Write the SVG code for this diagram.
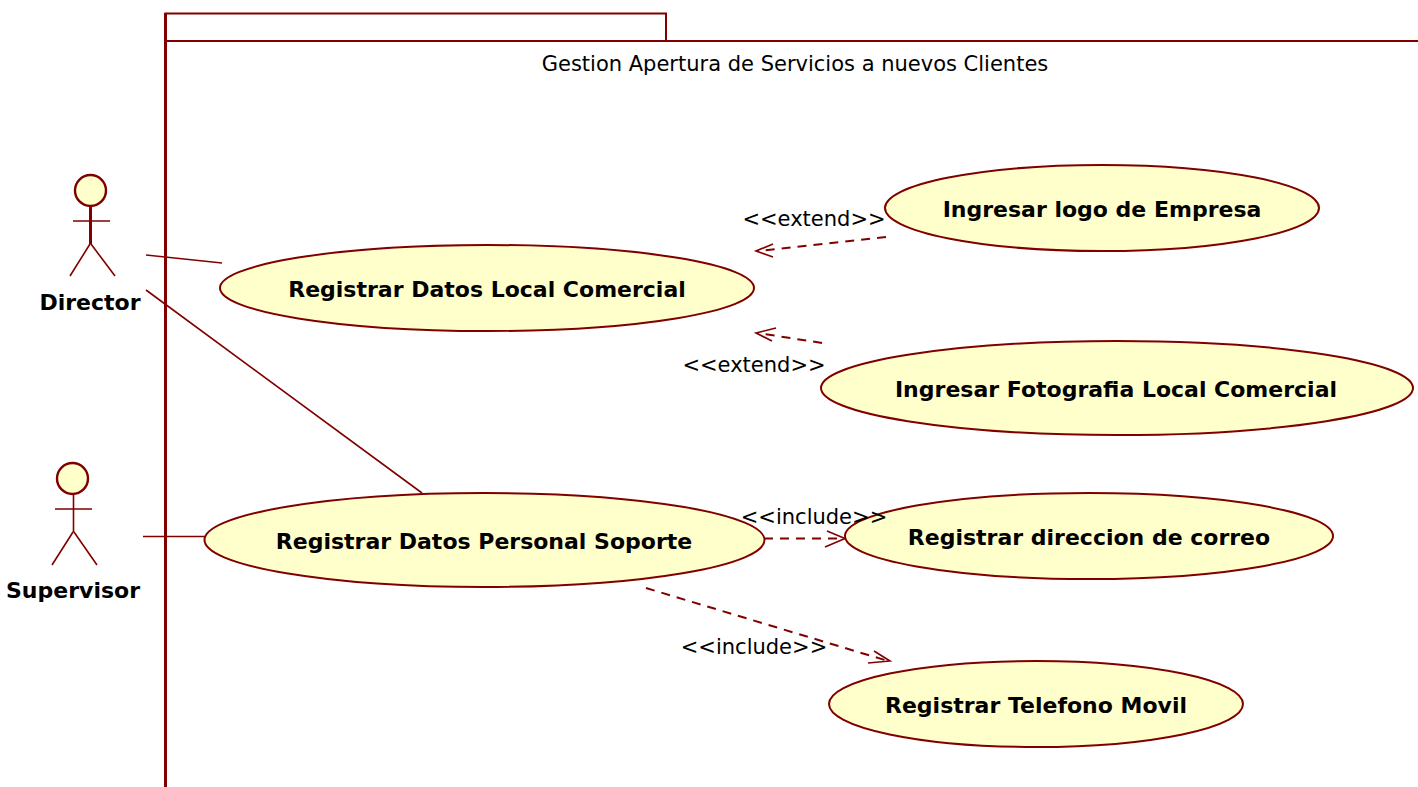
<svg xmlns="http://www.w3.org/2000/svg" width="1418" height="787" viewBox="0 0 1418 787">
<style>
.uc{fill:#ffffcb;stroke:#800000;stroke-width:2}
.b{font-family:"DejaVu Sans",sans-serif;font-weight:bold;font-size:22px;fill:#000;text-anchor:middle}
.n{font-family:"DejaVu Sans",sans-serif;font-size:21px;fill:#000;text-anchor:middle}
.l{fill:none;stroke:#800000;stroke-width:1.6}
.d{fill:none;stroke:#800000;stroke-width:2;stroke-dasharray:9 7}
.h{fill:none;stroke:#800000;stroke-width:1.6}
.a{fill:#ffffcb;stroke:#800000;stroke-width:2.4}
</style>
<rect width="1418" height="787" fill="#fff"/>
<g id="frame" fill="none" stroke="#800000">
<path d="M165.500 787V13.500H666V41" stroke-width="2"/>
<path d="M165.500 13V787" stroke-width="3"/>
<path d="M165 41H1418" stroke-width="2"/>
<text x="795" y="71" class="n" stroke="none">Gestion Apertura de Servicios a nuevos Clientes</text>
</g>
<g id="connectors">
<path class="l" d="M146 255L222 263"/>
<path class="l" d="M146 290L422 493"/>
<path class="l" d="M143 536.500H205"/>
<path class="d" d="M886 237L758 251"/>
<path class="h" d="M773 244L756 251L773 257"/>
<path class="d" d="M822 343L758 333"/>
<path class="h" d="M776 328L756 333L772 341"/>
<path class="d" d="M764 538.500H842"/>
<path class="h" d="M827 531L845 538.500L825 547"/>
<path class="d" d="M646 588L888 661"/>
<path class="h" d="M874 651L890 661L868 663"/>
</g>
<g id="actor-director">
<circle class="a" cx="90.500" cy="190.500" r="15.500"/>
<path d="M90.500 207V244" stroke="#800000" stroke-width="3" fill="none"/>
<path class="l" d="M73 221H110M90 244L70 276M91 244L115 276" stroke-width="2"/>
<text x="90" y="310" class="b">Director</text>
</g>
<g id="actor-supervisor">
<circle class="a" cx="72.500" cy="478.500" r="15.500"/>
<path class="l" d="M73.500 495V532M55 509H92M73 532L52 565M74 532L97 565" stroke-width="2"/>
<text x="73" y="598" class="b">Supervisor</text>
</g>
<g id="uc-registrar-local">
<ellipse class="uc" cx="487" cy="288" rx="267" ry="43"/>
<text x="487" y="297" class="b">Registrar Datos Local Comercial</text>
</g>
<g id="uc-ingresar-logo">
<ellipse class="uc" cx="1102" cy="208" rx="217" ry="43"/>
<text x="1102" y="217" class="b">Ingresar logo de Empresa</text>
</g>
<g id="uc-ingresar-foto">
<ellipse class="uc" cx="1117" cy="388" rx="296" ry="47"/>
<text x="1116" y="397" class="b">Ingresar Fotografia Local Comercial</text>
</g>
<g id="uc-registrar-personal">
<ellipse class="uc" cx="484.500" cy="540" rx="280" ry="47"/>
<text x="484" y="549" class="b">Registrar Datos Personal Soporte</text>
</g>
<g id="uc-direccion">
<ellipse class="uc" cx="1089" cy="536" rx="244" ry="43"/>
<text x="1089" y="545" class="b">Registrar direccion de correo</text>
</g>
<g id="uc-telefono">
<ellipse class="uc" cx="1036" cy="704" rx="207" ry="43"/>
<text x="1036" y="713" class="b">Registrar Telefono Movil</text>
</g>
<g id="labels">
<text x="814" y="226" class="n">&lt;&lt;extend&gt;&gt;</text>
<text x="754" y="372" class="n">&lt;&lt;extend&gt;&gt;</text>
<text x="814" y="524" class="n">&lt;&lt;include&gt;&gt;</text>
<text x="754" y="654" class="n">&lt;&lt;include&gt;&gt;</text>
</g>
</svg>
